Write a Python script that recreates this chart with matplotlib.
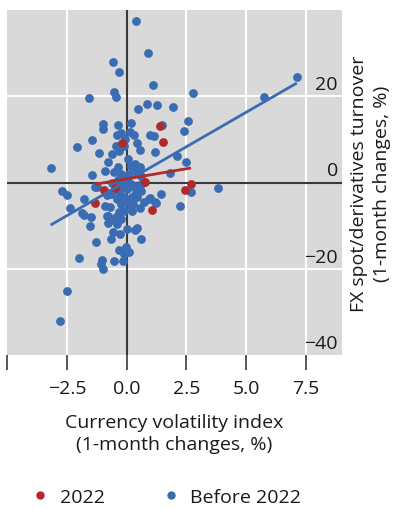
import matplotlib
matplotlib.use("Agg")
import matplotlib.pyplot as plt
from matplotlib.lines import Line2D
import matplotlib.transforms as mtransforms
import numpy as np

plt.rcParams['font.family'] = ['Open Sans', 'DejaVu Sans']

# Monthly changes: currency volatility index (x) vs FX turnover (y), in %
before_x = [0.38, 0.90, -0.57, -0.33, 1.11, -0.54, -0.44, -1.58, 2.78, 0.47,
            0.83, 1.26, 1.94, 2.58, 2.40, -0.99, -0.99, -0.38, 0.18, 1.49,
            -1.46, -2.08, -0.42, -0.22, 0.14, 0.32, 0.96, 1.14, -0.06, -0.46,
            -0.10, 0.43, -0.32, -0.60, -1.15, 0.57, 1.17, 2.11, 2.49, -3.18,
            -0.76, -1.46, -0.90, -0.38, -0.51, -0.25, 0.29, 0.56, 0.42, 1.83,
            0.03, 2.69, -2.72, -2.50, 1.42, -1.79, -1.32, 7.11, 5.76, 3.83,
            -2.36, -1.88, -1.80, -1.49, -1.53, -0.92, -0.71, -0.78, -0.78, -0.39,
            -0.58, -0.26, -0.65, -1.26, 0.03, 0.35, 0.43, 0.60, -0.32, -0.04,
            0.10, -0.11, -0.17, -0.53, -1.01, -1.08, -0.99, -2.01, -2.50, -2.80,
            2.25, 0.97, 1.17, 0.72, 0.20, -1.22, -0.67, -0.32, 0.03, 0.24,
            0.38, 0.58, -0.11, 0.24, -0.39, -0.25, 0.03, 0.28, -0.11, 0.24,
            -0.32, -0.80, -0.46, -0.25, -0.49, 0.17, 0.30, 0.58, 0.45, 0.93,
            1.24, 0.55, -0.60, -0.15, 0.10, -0.05, -0.80, 0.60, -0.35, 0.17,
            0.35, -0.25, 0.05]
before_y = [37.4, 30.1, 27.9, 25.6, 22.6, 20.9, 19.8, 19.6, 20.7, 17.1,
            18.1, 17.9, 17.4, 14.2, 12.0, 13.5, 12.3, 13.3, 13.9, 13.3,
            9.9, 8.2, 11.0, 11.4, 11.7, 11.0, 11.0, 10.8, 10.0, 8.5,
            8.5, 9.05, 7.2, 6.7, 6.9, 7.5, 7.1, 6.2, 4.7, 3.35,
            4.7, 1.7, 2.7, 3.5, 2.35, 2.0, 3.5, 3.5, 2.35, 2.3,
            0.8, -2.1, -2.0, -2.8, -2.65, -3.8, -1.1, 24.4, 19.8, -1.35,
            -6.0, -7.1, -7.5, -7.9, -10.0, -5.4, -5.6, -7.8, -9.4, -9.6,
            -11.5, -12.0, -13.1, -13.7, -10.8, -11.1, -10.6, -13.0, -15.7, -15.0,
            -16.0, -16.5, -18.3, -18.2, -18.0, -18.8, -20.0, -17.4, -25.1, -32.1,
            -5.35, -3.65, -4.6, -4.6, -5.35, -1.1, -2.65, -2.3, -1.5, -0.7,
            -2.3, -1.9, -3.4, -3.4, -3.8, -5.0, -4.6, -5.0, -6.5, -6.5,
            -6.9, -7.7, -8.0, -8.4, -8.8, 3.9, -0.7, -0.3, -3.4, -3.8,
            -4.8, -6.0, 0.0, 1.0, 2.0, -0.5, -3.0, 1.5, 0.5, -0.35,
            4.2, -1.2, 5.5]

y2022_x = [1.39, 1.54, -0.21, 0.78, 2.69, 2.44, -0.94, -0.49, -1.31, 1.05]
y2022_y = [13.1, 9.35, 9.05, 0.1, -0.4, -1.7, -1.7, -1.3, -4.7, -6.35]

# Linear fits (slope, intercept)
before_fit = (3.2, 0.3)
fit_2022 = (0.94, 0.84)

xticks = [-5.0, -2.5, 0.0, 2.5, 5.0, 7.5]
xticklabels = ["", "\u22122.5", "0.0", "2.5", "5.0", "7.5"]
yticks = [-40, -20, 0, 20]
yticklabels = ["\u221240", "\u221220", "0", "20"]

BLUE = "#3a6cb3"
RED = "#b0292d"
BG = "#d9d9d9"
TXT = "#1a1a1a"
FS = 14

fig = plt.figure(figsize=(3.94, 5.10), dpi=100)
ax = fig.add_axes([7/394, 1 - 356/510, (342 - 7)/394, (356 - 11)/510])
ax.set_facecolor(BG)
ax.set_xlim(-5, 9)
ax.set_ylim(-40, 40)

# grid
for gx in [-2.5, 2.5, 5.0, 7.5]:
    ax.axvline(gx, color="white", lw=1.5, zorder=1)
for gy in [-20, 20]:
    ax.axhline(gy, color="white", lw=1.5, zorder=1)
ax.axhline(0, color="#3a3a3a", lw=1.5, zorder=2)
ax.axvline(0, color="#3a3a3a", lw=1.5, zorder=2)

ax.scatter(before_x, before_y, s=40, color=BLUE, linewidths=0, zorder=3)
ax.scatter(y2022_x, y2022_y, s=40, color=RED, linewidths=0, zorder=4)

bx = np.array([min(before_x), max(before_x)])
ax.plot(bx, before_fit[0] * bx + before_fit[1], color=BLUE, lw=2, zorder=5,
        solid_capstyle="butt")
rx = np.array([min(y2022_x), max(y2022_x)])
ax.plot(rx, fit_2022[0] * rx + fit_2022[1], color=RED, lw=2, zorder=5,
        solid_capstyle="butt")

for sp in ax.spines.values():
    sp.set_visible(False)

ax.set_xticks(xticks)
ax.set_xticklabels(xticklabels)
ax.tick_params(axis="x", length=11, width=1.2, color="#3a3a3a", pad=6,
               labelsize=FS, labelcolor=TXT)
ax.set_yticks([])

# y tick labels sit inside the panel, just above their gridline
trans = mtransforms.blended_transform_factory(ax.transAxes, ax.transData)
off = mtransforms.offset_copy(trans, fig=fig, x=-4, y=3, units="dots")
for v, lab in zip(yticks, yticklabels):
    ax.text(1.0, v, lab, transform=off, ha="right", va="bottom",
            fontsize=FS, color=TXT, zorder=6)

ax.set_xlabel("Currency volatility index\n(1-month changes, %)", fontsize=FS,
              labelpad=12, color=TXT, linespacing=1.25)
ax.yaxis.set_label_position("right")
ax.set_ylabel("FX spot/derivatives turnover\n(1-month changes, %)", fontsize=FS,
              labelpad=6, color=TXT, linespacing=1.3)

handles = [Line2D([], [], marker="o", ls="", color=RED, markersize=5),
           Line2D([], [], marker="o", ls="", color=BLUE, markersize=5)]
fig.legend(handles, ["2022", "Before 2022"], loc="center",
           bbox_to_anchor=(166/394, 1 - 498/510), ncol=2, frameon=False,
           fontsize=FS, handlelength=1.0, handletextpad=0.5, columnspacing=2.9,
           labelcolor=TXT)

fig.savefig("out.png", dpi=100)
